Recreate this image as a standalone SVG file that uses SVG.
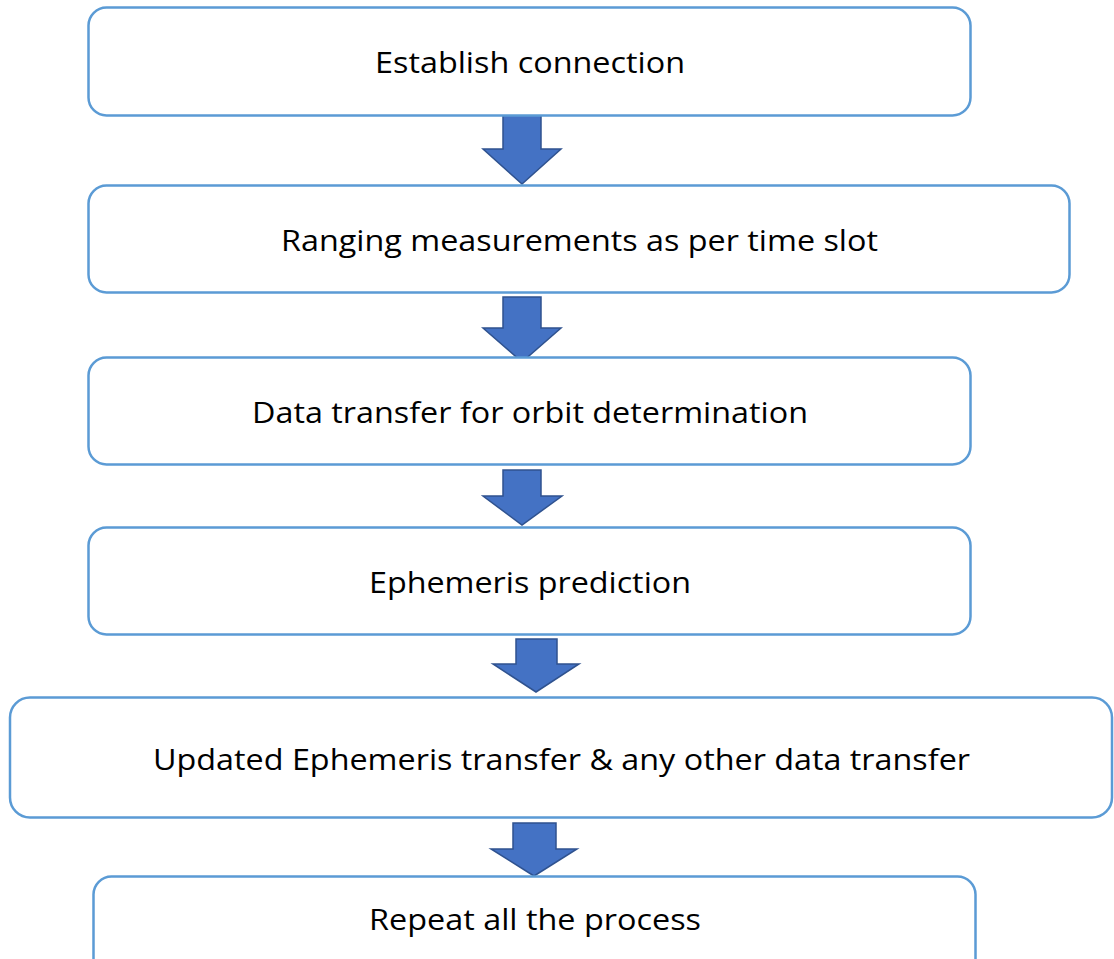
<svg xmlns="http://www.w3.org/2000/svg" width="1114" height="959" viewBox="0 0 1114 959">
<style>
.box{fill:#ffffff;stroke:#5B9BD5;stroke-width:2.5}
.arr{fill:#4472C4;stroke:#2F528F;stroke-width:1.5;stroke-linejoin:miter}
.t{font-family:"Open Sans","Liberation Sans",Arial,sans-serif;font-size:30px;fill:#000000;text-anchor:middle}
</style>
<rect width="1114" height="959" fill="#ffffff"/>
<g id="connectors">
<polygon class="arr" points="503,115 541,115 541,149 561,149 522,184 483,149 503,149"/>
<polygon class="arr" points="503,297 541,297 541,328 561,328 522,362 483,328 503,328"/>
<polygon class="arr" points="503,470 541,470 541,496 562,496 522,525 483,496 503,496"/>
<polygon class="arr" points="516,639 557,639 557,664 579,664 536,692 493,664 516,664"/>
<polygon class="arr" points="513,823 556,823 556,849 577,849 534,876 491,849 513,849"/>
</g>
<g id="n1">
<rect class="box" x="88.5" y="7.5" width="882" height="108" rx="18"/>
<text class="t" x="530" y="73" textLength="310" lengthAdjust="spacingAndGlyphs">Establish connection</text>
</g>
<g id="n2">
<rect class="box" x="88.5" y="185.5" width="981" height="107" rx="18"/>
<text class="t" x="579.5" y="251" textLength="597" lengthAdjust="spacingAndGlyphs">Ranging measurements as per time slot</text>
</g>
<g id="n3">
<rect class="box" x="88.5" y="357.5" width="882" height="107" rx="18"/>
<text class="t" x="530" y="423" textLength="556" lengthAdjust="spacingAndGlyphs">Data transfer for orbit determination</text>
</g>
<g id="n4">
<rect class="box" x="88.5" y="527.5" width="882" height="107" rx="18"/>
<text class="t" x="530" y="593" textLength="322" lengthAdjust="spacingAndGlyphs">Ephemeris prediction</text>
</g>
<g id="n5">
<rect class="box" x="10" y="697.5" width="1102" height="120" rx="20"/>
<text class="t" x="561.5" y="770" textLength="817" lengthAdjust="spacingAndGlyphs">Updated Ephemeris transfer &amp; any other data transfer</text>
</g>
<g id="n6">
<rect class="box" x="93.5" y="876.5" width="882" height="110" rx="18"/>
<text class="t" x="535" y="930" textLength="332" lengthAdjust="spacingAndGlyphs">Repeat all the process</text>
</g>
</svg>
